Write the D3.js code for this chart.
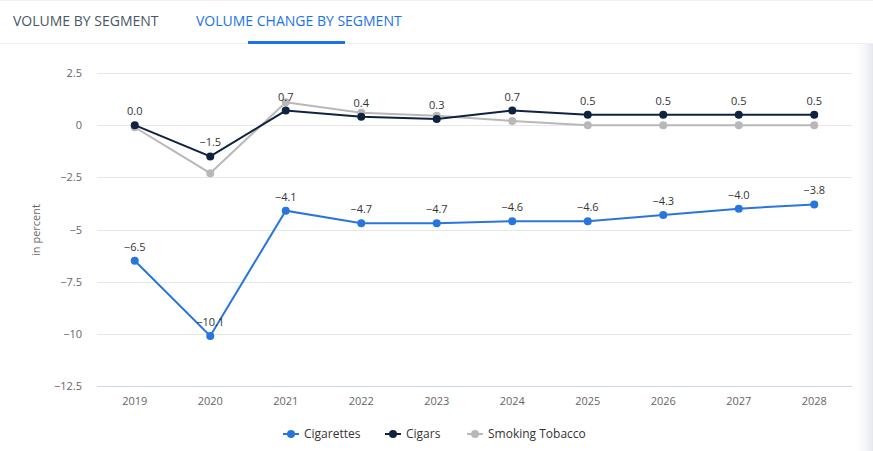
<!DOCTYPE html>
<html><head><meta charset="utf-8">
<script src="https://cdn.jsdelivr.net/npm/d3@7"></script>
<style>
body{margin:0;background:#fff;font-family:"Open Sans",Arial,sans-serif;}
svg{display:block}
</style></head>
<body>
<svg id="c" width="873" height="451"></svg>
<script>
const years = ["2019","2020","2021","2022","2023","2024","2025","2026","2027","2028"];
const cigarettes = [-6.5,-10.1,-4.1,-4.7,-4.7,-4.6,-4.6,-4.3,-4.0,-3.8];
const cigars = [0.0,-1.5,0.7,0.4,0.3,0.7,0.5,0.5,0.5,0.5];
const smokingTobacco = [-0.1,-2.3,1.1,0.6,0.45,0.2,0.0,0.0,0.0,0.0];
const yTicks = [2.5,0,-2.5,-5,-7.5,-10,-12.5];
const seriesNames = ["Cigarettes","Cigars","Smoking Tobacco"];
const tabs = ["VOLUME BY SEGMENT","VOLUME CHANGE BY SEGMENT"];

const colors = {"Cigarettes":"#2876dd","Cigars":"#0f2340","Smoking Tobacco":"#b8b8b8"};
const series = [
  {name:"Smoking Tobacco", values:smokingTobacco, labels:false},
  {name:"Cigars", values:cigars, labels:true},
  {name:"Cigarettes", values:cigarettes, labels:true}
];

const svg = d3.select("#c");
const fmtTick = v => (v<0?"\u2212":"") + Math.abs(v);
const fmtLab = v => (v<0?"\u2212":"") + Math.abs(v).toFixed(1);

// header
svg.append("line").attr("x1",0).attr("x2",873).attr("y1",0.5).attr("y2",0.5).attr("stroke","#eef0f4");
svg.append("line").attr("x1",0).attr("x2",873).attr("y1",43.5).attr("y2",43.5).attr("stroke","#eef0f4");
svg.append("text").attr("x",13).attr("y",26).text(tabs[0]).attr("fill","#4a5568").attr("font-size",14).attr("font-weight",500);
svg.append("text").attr("x",196).attr("y",26).text(tabs[1]).attr("fill","#1a73e8").attr("font-size",14).attr("font-weight",500);
svg.append("rect").attr("x",248).attr("y",41).attr("width",97).attr("height",3).attr("fill","#1a73e8");

// right shadow
const defs = svg.append("defs");
const g = defs.append("linearGradient").attr("id","sh").attr("x1","0").attr("x2","1");
g.append("stop").attr("offset","0").attr("stop-color","#fff").attr("stop-opacity",0);
g.append("stop").attr("offset","1").attr("stop-color","#e4e7ee").attr("stop-opacity",1);

const x = d3.scaleBand().domain(years).range([97,852]);
const y = d3.scaleLinear().domain([-12.5,2.5]).range([386,73]);

// grid
svg.append("g").selectAll("line").data(yTicks.filter(t=>t!==-12.5)).join("line")
  .attr("x1",97).attr("x2",852).attr("y1",d=>Math.round(y(d))+0.5).attr("y2",d=>Math.round(y(d))+0.5)
  .attr("stroke","#e6e6e6");
svg.append("line").attr("x1",97).attr("x2",852).attr("y1",Math.round(y(-12.5))+0.5).attr("y2",Math.round(y(-12.5))+0.5).attr("stroke","#ccd6eb");

// y tick labels
svg.append("g").selectAll("text").data(yTicks).join("text")
  .attr("x",82).attr("y",d=>y(d)+4).attr("text-anchor","end")
  .attr("font-size",11).attr("fill","#666").text(fmtTick);
svg.append("text").attr("transform","translate(40,230) rotate(-90)").attr("text-anchor","middle")
  .attr("font-size",11).attr("fill","#666").text("in percent");

// x labels
svg.append("g").selectAll("text").data(years).join("text")
  .attr("x",d=>x(d)+x.bandwidth()/2).attr("y",405).attr("text-anchor","middle")
  .attr("font-size",11).attr("fill","#666").text(d=>d);

const cx = i => x(years[i])+x.bandwidth()/2;
const line = d3.line().x((d,i)=>cx(i)).y(d=>y(d));
series.forEach(s=>{
  const gg = svg.append("g");
  gg.append("path").attr("d",line(s.values)).attr("fill","none").attr("stroke",colors[s.name]).attr("stroke-width",2);
  gg.selectAll("circle").data(s.values).join("circle").attr("cx",(d,i)=>cx(i)).attr("cy",d=>y(d)).attr("r",4).attr("fill",colors[s.name]);
});
series.filter(s=>s.labels).forEach(s=>{
  svg.append("g").selectAll("text").data(s.values).join("text")
    .attr("x",(d,i)=>cx(i)).attr("y",d=>y(d)-10).attr("text-anchor","middle")
    .attr("font-size",11).attr("fill","#333").text(fmtLab);
});

// legend
const legendItems = [{n:"Cigarettes",x:283},{n:"Cigars",x:385},{n:"Smoking Tobacco",x:467}];
const lg = svg.append("g");
legendItems.forEach(it=>{
  lg.append("line").attr("x1",it.x).attr("x2",it.x+16).attr("y1",434).attr("y2",434).attr("stroke",colors[it.n]).attr("stroke-width",2);
  lg.append("circle").attr("cx",it.x+8).attr("cy",434).attr("r",4).attr("fill",colors[it.n]);
  lg.append("text").attr("x",it.x+21).attr("y",438).attr("font-size",12).attr("fill","#333").attr("font-weight",500).text(it.n);
});

svg.append("rect").attr("x",852).attr("y",44).attr("width",21).attr("height",407).attr("fill","url(#sh)");
</script>
</body></html>
